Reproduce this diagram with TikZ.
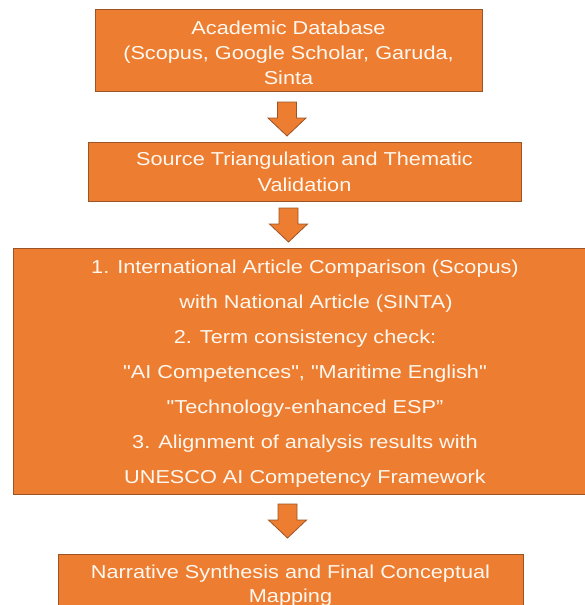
\documentclass[tikz,border=0pt]{standalone}
\usepackage{fontspec}
\newfontfamily\boxfont[FakeStretch=1.16]{Liberation Sans}
\definecolor{boxfill}{HTML}{ED7D31}
\definecolor{boxline}{HTML}{9C5425}
\definecolor{boxtext}{HTML}{FFF8F0}
\begin{document}
\begin{tikzpicture}[x=1pt,y=-1pt,
  box/.style={draw=boxline, line width=0.8pt, fill=boxfill, inner sep=0pt},
  lbl/.style={text=boxtext, align=center, inner sep=0pt},
  blockarrow/.style={draw=boxline, line width=0.8pt, fill=boxfill, line join=miter}]
\useasboundingbox (0,0) rectangle (584,605);
\node[box, minimum width=387, minimum height=82] (b1) at (288.5,50) {};
\node[lbl, font=\boxfont\fontsize{18.7}{25}\selectfont] (t1) at ([yshift=-3pt]b1.center)
  {Academic Database\\(Scopus, Google Scholar, Garuda,\\Sinta};
\node[box, minimum width=433, minimum height=59] (b2) at (304.5,171.5) {};
\node[lbl, font=\boxfont\fontsize{18.7}{26}\selectfont] (t2) at (b2.center)
  {Source Triangulation and Thematic\\Validation};
\node[box, minimum width=584, minimum height=246] (b3) at (305,371) {};
\node[lbl, font=\boxfont\fontsize{18.7}{35}\selectfont] (t3) at ([yshift=-3pt]b3.center)
  {1. International Article Comparison (Scopus)\\
   \hspace*{22pt}with National Article (SINTA)\\
   2. Term consistency check:\\
   "AI Competences", "Maritime English"\\
   "Technology-enhanced ESP”\hspace*{6pt}\\
   3. Alignment of analysis results with\\
   UNESCO AI Competency Framework};
\node[box, minimum width=465, minimum height=59] (b4) at (290.5,583.5) {};
\node[lbl, font=\boxfont\fontsize{18.7}{24}\selectfont] (t4) at ([yshift=-2pt]b4.center)
  {Narrative Synthesis and Final Conceptual\\Mapping};
\coordinate (a1) at (287,102);
\coordinate (a2) at (288.5,208);
\coordinate (a3) at (287.5,504);
\foreach \a in {a1,a2,a3}{
  \draw[blockarrow] (\a) ++(-9.5,0) -- ++(19,0) -- ++(0,16) -- ++(9.5,0) -- ++(-19,18) -- ++(-19,-18) -- ++(9.5,0) -- cycle;
}
\end{tikzpicture}
\end{document}
